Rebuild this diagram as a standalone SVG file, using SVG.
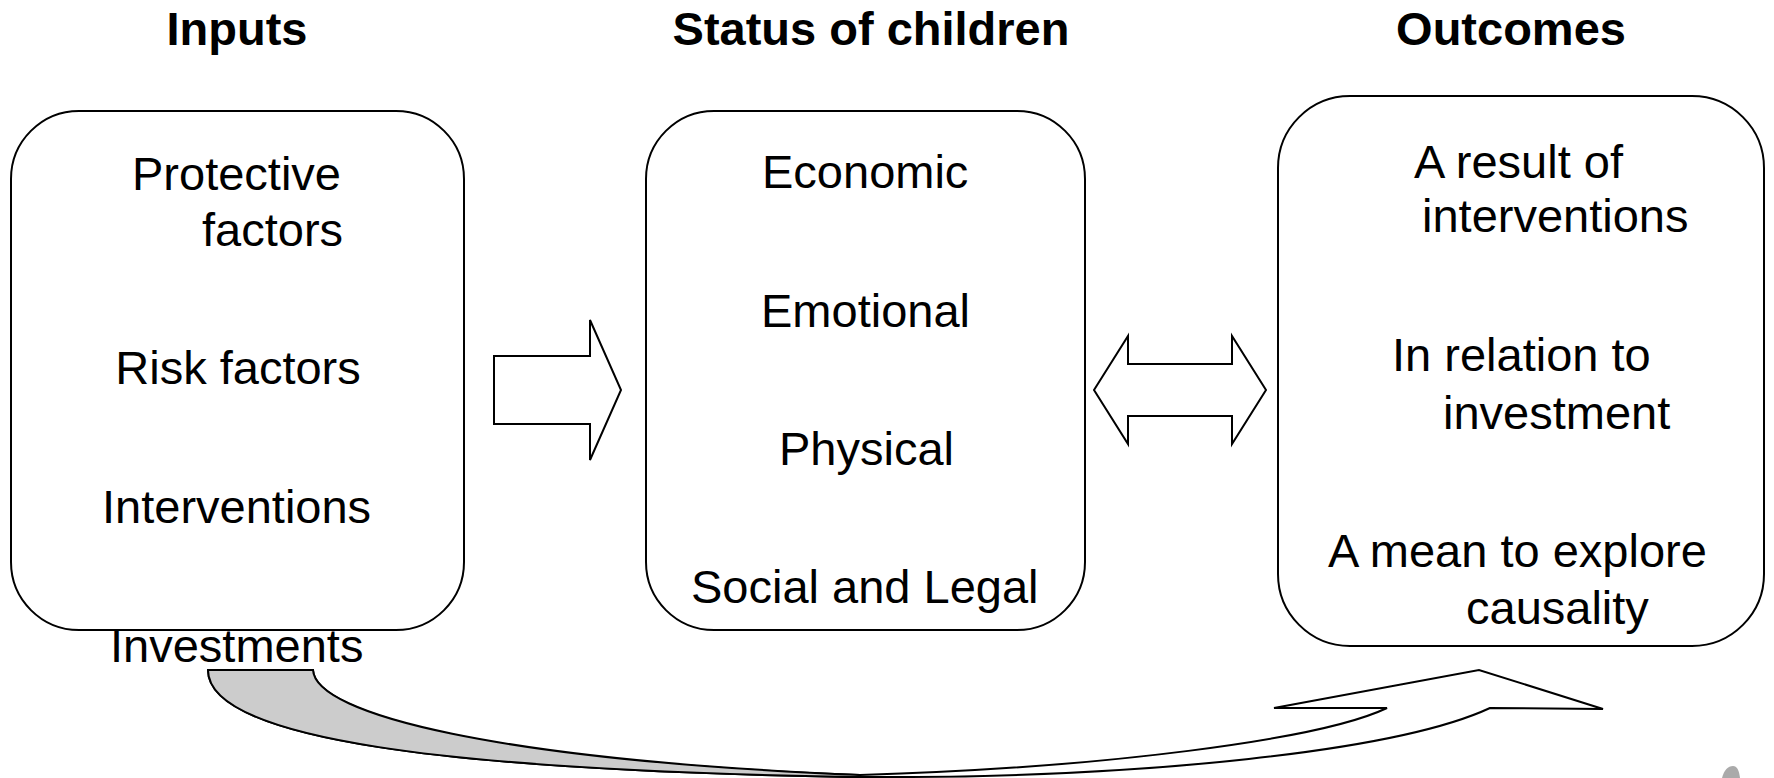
<svg xmlns="http://www.w3.org/2000/svg" width="1774" height="778" viewBox="0 0 1774 778">
<style>
.box{fill:#fff;stroke:#000;stroke-width:2}
.h{font-family:"Liberation Sans",Arial,sans-serif;font-weight:bold;font-size:47px;fill:#000}
.t{font-family:"Liberation Sans",Arial,sans-serif;font-size:47px;fill:#000}
.arr{fill:#fff;stroke:#000;stroke-width:2;stroke-linejoin:miter}
.band{fill:#cccccc;stroke:#000;stroke-width:2}
</style>
<rect width="1774" height="778" fill="#fff"/>
<g id="headings">
<text class="h" x="237" y="45" text-anchor="middle">Inputs</text>
<text class="h" x="871" y="45" text-anchor="middle">Status of children</text>
<text class="h" x="1511" y="45" text-anchor="middle">Outcomes</text>
</g>
<g id="connectors">
<path class="arr" d="M494,356 L590,356 L590,320 L621,390 L590,460 L590,424 L494,424 Z"/>
<path class="arr" d="M1094,390 L1128,336 L1128,364 L1232,364 L1232,336 L1266,390 L1232,444 L1232,416 L1128,416 L1128,444 Z"/>
<path class="arr" d="M208,670 C208,740 450,770 850,777 C1150,779 1400,750 1490,708 L1603,709 L1479,670 L1274,708 L1387,708 C1320,740 1100,768 860,775 C500,762 315,715 313,670 Z"/>
<path class="band" d="M208,670 L313,670 C315,715 500,760 860,775 L850,777 C450,770 208,740 208,670 Z"/>
</g>
<g id="inputs">
<rect class="box" x="11" y="111" width="453" height="519" rx="68" ry="68"/>
<text class="t" x="132" y="190">Protective</text>
<text class="t" x="202" y="246">factors</text>
<text class="t" x="238" y="384" text-anchor="middle">Risk factors</text>
<text class="t" x="102" y="523">Interventions</text>
<text class="t" x="110" y="662">Investments</text>
</g>
<g id="status">
<rect class="box" x="646" y="111" width="439" height="519" rx="68" ry="68"/>
<text class="t" x="762" y="188">Economic</text>
<text class="t" x="761" y="327">Emotional</text>
<text class="t" x="779" y="465">Physical</text>
<text class="t" x="691" y="603">Social and Legal</text>
</g>
<g id="outcomes">
<rect class="box" x="1278" y="96" width="486" height="550" rx="72" ry="72"/>
<text class="t" x="1414" y="178">A result of</text>
<text class="t" x="1422" y="232">interventions</text>
<text class="t" x="1392" y="371">In relation to</text>
<text class="t" x="1443" y="429">investment</text>
<text class="t" x="1328" y="567">A mean to explore</text>
<text class="t" x="1466" y="624">causality</text>
</g>
<path d="M1722,778 C1724,770 1728,766 1733,766 C1737,766 1739,770 1740,778 Z" fill="#aaa"/>
</svg>
